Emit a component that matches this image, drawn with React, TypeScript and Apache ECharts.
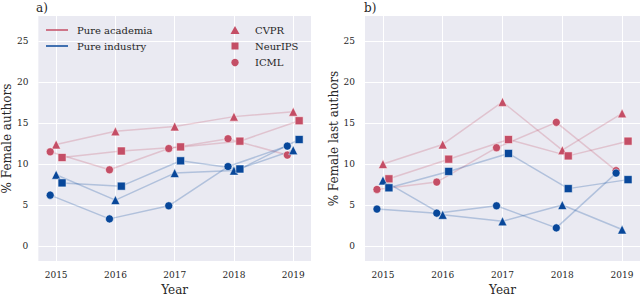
import React, { useEffect, useRef } from "react";
import * as echarts from "echarts";

const years = [2015, 2016, 2017, 2018, 2019];
const conferences = ["CVPR", "NeurIPS", "ICML"];
const yTicks = [0, 5, 10, 15, 20, 25];

// Panel a) % Female authors
const aAcadCVPR = [12.4, 14.0, 14.6, 15.8, 16.4];
const aAcadNeurIPS = [10.8, 11.6, 12.1, 12.8, 15.3];
const aAcadICML = [11.5, 9.3, 11.9, 13.1, 11.1];
const aIndCVPR = [8.7, 5.6, 8.9, 9.2, 11.7];
const aIndNeurIPS = [7.7, 7.3, 10.4, 9.4, 13.0];
const aIndICML = [6.2, 3.3, 4.9, 9.7, 12.2];

// Panel b) % Female last authors
const bAcadCVPR = [10.0, 12.4, 17.6, 11.7, 16.2];
const bAcadNeurIPS = [8.2, 10.6, 13.0, 11.0, 12.8];
const bAcadICML = [6.9, 7.8, 12.0, 15.1, 9.2];
const bIndCVPR = [8.0, 3.8, 3.0, 5.0, 2.0];
const bIndNeurIPS = [7.1, 9.1, 11.3, 7.0, 8.1];
const bIndICML = [4.5, 4.0, 4.9, 2.2, 8.9];

const PINK = "#c44e66";
const BLUE = "#08479a";
const PINK_LINE = "rgba(196,78,102,0.25)";
const BLUE_LINE = "rgba(8,71,154,0.25)";
const FONT = "DejaVu Serif";
const TXT = "#262626";

const symbols: Record<string, string> = { CVPR: "triangle", NeurIPS: "rect", ICML: "circle" };
const symSize: Record<string, number> = { CVPR: 9, NeurIPS: 8, ICML: 8 };
const offsets: Record<string, number> = { CVPR: 0, NeurIPS: 0.1, ICML: -0.1 };

function makeSeries(idx: number, conf: string, vals: number[], color: string, lineColor: string) {
  return {
    type: "line",
    xAxisIndex: idx,
    yAxisIndex: idx,
    data: years.map((y, i) => [y + offsets[conf], vals[i]]),
    symbol: symbols[conf],
    symbolSize: symSize[conf],
    showSymbol: true,
    lineStyle: { color: lineColor, width: 1.5 },
    itemStyle: { color, borderColor: "#ffffff", borderWidth: 0.5 },
    silent: true,
  };
}

export default function App() {
  const ref = useRef<HTMLDivElement>(null);
  useEffect(() => {
    if (!ref.current) return;
    const chart = echarts.init(ref.current, null, { renderer: "svg" });
    const grids = [
      { left: 37, top: 16, width: 274, bottom: 32 },
      { left: 365, top: 16, right: 0, bottom: 32 },
    ];
    const xAxes = [0, 1].map((i) => ({
      type: "value",
      gridIndex: i,
      min: 2014.7,
      max: 2019.3,
      axisLine: { show: false },
      axisTick: { show: false, customValues: years },
      axisLabel: {
        customValues: years,
        fontFamily: FONT,
        fontSize: 9,
        color: TXT,
        margin: 9,
        formatter: (v: number) => String(Math.round(v)),
      },
      splitLine: { show: true, lineStyle: { color: "#ffffff", width: 1 } },
      name: "Year",
      nameLocation: "middle",
      nameGap: 21,
      nameTextStyle: { fontFamily: FONT, fontSize: 12, color: TXT },
    }));
    const yNames = ["% Female authors", "% Female last authors"];
    const yAxes = [0, 1].map((i) => ({
      type: "value",
      gridIndex: i,
      min: -1.86,
      max: 28.1,
      axisLine: { show: false },
      axisTick: { show: false, customValues: yTicks },
      axisLabel: {
        customValues: yTicks,
        fontFamily: FONT,
        fontSize: 9,
        color: TXT,
        margin: 10,
      },
      splitLine: { show: true, lineStyle: { color: "#ffffff", width: 1 } },
      name: yNames[i],
      nameLocation: "middle",
      nameGap: 25,
      nameTextStyle: { fontFamily: FONT, fontSize: 12, color: TXT },
    }));

    const series = [
      makeSeries(0, "CVPR", aAcadCVPR, PINK, PINK_LINE),
      makeSeries(0, "NeurIPS", aAcadNeurIPS, PINK, PINK_LINE),
      makeSeries(0, "ICML", aAcadICML, PINK, PINK_LINE),
      makeSeries(0, "CVPR", aIndCVPR, BLUE, BLUE_LINE),
      makeSeries(0, "NeurIPS", aIndNeurIPS, BLUE, BLUE_LINE),
      makeSeries(0, "ICML", aIndICML, BLUE, BLUE_LINE),
      makeSeries(1, "CVPR", bAcadCVPR, PINK, PINK_LINE),
      makeSeries(1, "NeurIPS", bAcadNeurIPS, PINK, PINK_LINE),
      makeSeries(1, "ICML", bAcadICML, PINK, PINK_LINE),
      makeSeries(1, "CVPR", bIndCVPR, BLUE, BLUE_LINE),
      makeSeries(1, "NeurIPS", bIndNeurIPS, BLUE, BLUE_LINE),
      makeSeries(1, "ICML", bIndICML, BLUE, BLUE_LINE),
    ];

    const legendText = (x: number, y: number, text: string) => ({
      type: "text",
      x,
      y,
      z: 100,
      style: { text, fontFamily: FONT, fontSize: 10, fill: TXT, verticalAlign: "middle" },
    });

    const graphic: any[] = [
      { type: "text", x: 36, y: 8, z: 100, style: { text: "a)", fontFamily: FONT, fontSize: 12, fill: TXT, verticalAlign: "middle" } },
      { type: "text", x: 364, y: 8, z: 100, style: { text: "b)", fontFamily: FONT, fontSize: 12, fill: TXT, verticalAlign: "middle" } },
      { type: "line", z: 100, shape: { x1: 46, y1: 30, x2: 68, y2: 30 }, style: { stroke: PINK, lineWidth: 1.5 } },
      { type: "line", z: 100, shape: { x1: 46, y1: 46, x2: 68, y2: 46 }, style: { stroke: BLUE, lineWidth: 1.5 } },
      legendText(77, 30, "Pure academia"),
      legendText(77, 46, "Pure industry"),
      { type: "polygon", z: 100, shape: { points: [[235, 26], [239.5, 34], [230.5, 34]] }, style: { fill: PINK } },
      { type: "rect", z: 100, shape: { x: 231.5, y: 42.5, width: 7, height: 7 }, style: { fill: PINK } },
      { type: "circle", z: 100, shape: { cx: 235, cy: 62.5, r: 3.7 }, style: { fill: PINK } },
      legendText(255, 30, conferences[0]),
      legendText(255, 46, conferences[1]),
      legendText(255, 62, conferences[2]),
    ];

    chart.setOption({
      animation: false,
      backgroundColor: "#ffffff",
      grid: grids.map((g) => ({ ...g, show: true, backgroundColor: "#EAEAF2", borderWidth: 0 })),
      xAxis: xAxes,
      yAxis: yAxes,
      series,
      graphic,
    } as any);
    return () => chart.dispose();
  }, []);
  return (
    <div
      ref={ref}
      style={{ position: "fixed", left: 0, top: 0, width: 640, height: 301 }}
    />
  );
}
